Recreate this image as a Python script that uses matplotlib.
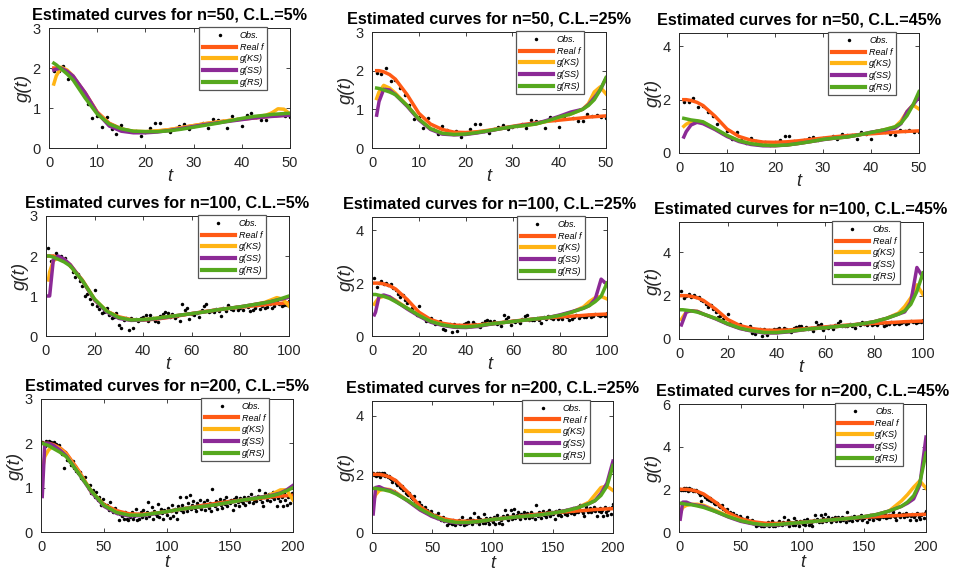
import numpy as np
import matplotlib
matplotlib.use('Agg')
import matplotlib.pyplot as plt

plt.rcParams['font.family'] = ['Liberation Sans', 'DejaVu Sans']

# Tamaños de muestra y niveles de contaminacion
sizes = [50, 100, 200]
levels = ['5%', '25%', '45%']

# Malla relativa u = t/n donde se leen las curvas
U = [0, 0.015, 0.03, 0.05, 0.075, 0.1, 0.15, 0.2, 0.25, 0.3, 0.35, 0.4, 0.45,
     0.5, 0.55, 0.6, 0.65, 0.7, 0.75, 0.8, 0.85, 0.9, 0.925, 0.95, 0.975, 1.0]

real_f = [2.0, 2.0, 2.0, 1.97, 1.9, 1.78, 1.38, 0.90, 0.62, 0.48, 0.41, 0.40, 0.42,
          0.46, 0.51, 0.56, 0.61, 0.65, 0.69, 0.72, 0.75, 0.78, 0.80, 0.81, 0.82, 0.83]

# Curvas estimadas, una lista por nivel (5%, 25%, 45%)
ks_50 = [
    [1.60, 1.60, 1.80, 2.02, 1.95, 1.80, 1.35, 0.88, 0.60, 0.47, 0.42, 0.41, 0.43,
     0.46, 0.51, 0.56, 0.61, 0.65, 0.69, 0.73, 0.77, 0.82, 0.88, 0.98, 0.97, 0.85],
    [1.28, 1.28, 1.45, 1.62, 1.55, 1.42, 1.10, 0.75, 0.50, 0.38, 0.35, 0.36, 0.40,
     0.45, 0.50, 0.55, 0.58, 0.62, 0.70, 0.80, 0.88, 1.00, 1.15, 1.45, 1.58, 1.40],
    [1.00, 1.00, 1.08, 1.18, 1.20, 1.15, 0.90, 0.65, 0.46, 0.35, 0.29, 0.28, 0.30,
     0.36, 0.43, 0.51, 0.56, 0.60, 0.68, 0.77, 0.86, 0.98, 1.20, 1.55, 1.80, 1.65],
]
ss_50 = [
    [1.95, 1.95, 1.97, 2.00, 1.92, 1.80, 1.38, 0.88, 0.55, 0.42, 0.38, 0.38, 0.40,
     0.44, 0.49, 0.54, 0.59, 0.63, 0.67, 0.71, 0.75, 0.78, 0.79, 0.80, 0.81, 0.82],
    [0.85, 0.85, 1.20, 1.52, 1.50, 1.38, 1.08, 0.73, 0.48, 0.36, 0.34, 0.35, 0.39,
     0.44, 0.50, 0.55, 0.59, 0.63, 0.72, 0.82, 0.93, 1.00, 1.12, 1.30, 1.50, 1.80],
    [0.60, 0.60, 0.80, 1.05, 1.15, 1.10, 0.88, 0.62, 0.43, 0.32, 0.27, 0.27, 0.30,
     0.36, 0.43, 0.50, 0.56, 0.60, 0.68, 0.78, 0.85, 0.93, 1.10, 1.55, 1.80, 2.10],
]
rs_50 = [
    [2.12, 2.12, 2.08, 1.98, 1.85, 1.70, 1.25, 0.85, 0.60, 0.48, 0.42, 0.41, 0.41,
     0.43, 0.47, 0.52, 0.57, 0.62, 0.68, 0.74, 0.79, 0.82, 0.84, 0.85, 0.86, 0.87],
    [1.55, 1.55, 1.54, 1.50, 1.45, 1.38, 1.10, 0.75, 0.50, 0.38, 0.35, 0.36, 0.40,
     0.45, 0.50, 0.55, 0.58, 0.62, 0.70, 0.80, 0.88, 1.00, 1.10, 1.25, 1.50, 1.82],
    [1.30, 1.30, 1.28, 1.24, 1.21, 1.17, 0.92, 0.66, 0.46, 0.35, 0.29, 0.28, 0.30,
     0.36, 0.43, 0.51, 0.56, 0.60, 0.68, 0.77, 0.86, 0.98, 1.12, 1.40, 1.80, 2.30],
]
ks_100 = [
    [1.40, 1.60, 1.88, 1.95, 1.92, 1.75, 1.40, 0.92, 0.62, 0.46, 0.40, 0.41, 0.44,
     0.48, 0.52, 0.56, 0.60, 0.65, 0.69, 0.73, 0.78, 0.84, 0.90, 0.96, 0.92, 0.75],
    [1.20, 1.28, 1.45, 1.50, 1.47, 1.35, 1.05, 0.78, 0.55, 0.42, 0.35, 0.34, 0.38,
     0.45, 0.50, 0.55, 0.60, 0.65, 0.70, 0.78, 0.90, 1.10, 1.30, 1.45, 1.50, 1.40],
    [0.90, 1.00, 1.25, 1.30, 1.28, 1.15, 0.95, 0.70, 0.50, 0.38, 0.30, 0.30, 0.35,
     0.42, 0.48, 0.52, 0.58, 0.63, 0.70, 0.80, 0.95, 1.20, 1.50, 1.90, 2.50, 2.05],
]
ss_100 = [
    [1.00, 1.00, 1.90, 2.00, 1.92, 1.78, 1.38, 0.90, 0.60, 0.44, 0.39, 0.40, 0.43,
     0.47, 0.52, 0.56, 0.60, 0.65, 0.69, 0.73, 0.78, 0.83, 0.86, 0.90, 0.93, 0.97],
    [0.80, 0.90, 1.50, 1.55, 1.48, 1.32, 1.02, 0.75, 0.52, 0.40, 0.33, 0.32, 0.36,
     0.44, 0.50, 0.55, 0.60, 0.65, 0.70, 0.80, 0.92, 1.05, 1.15, 1.40, 2.15, 1.95],
    [0.65, 0.80, 1.25, 1.30, 1.27, 1.15, 0.93, 0.68, 0.48, 0.36, 0.28, 0.28, 0.33,
     0.41, 0.48, 0.52, 0.58, 0.63, 0.70, 0.80, 0.95, 1.15, 1.25, 1.70, 3.30, 2.85],
]
rs_100 = [
    [2.00, 2.00, 1.97, 1.92, 1.85, 1.75, 1.38, 0.92, 0.62, 0.46, 0.40, 0.41, 0.44,
     0.48, 0.52, 0.56, 0.60, 0.65, 0.69, 0.73, 0.78, 0.83, 0.86, 0.90, 0.95, 1.00],
    [1.57, 1.57, 1.54, 1.50, 1.42, 1.30, 1.05, 0.78, 0.55, 0.42, 0.35, 0.34, 0.38,
     0.45, 0.50, 0.55, 0.60, 0.65, 0.70, 0.78, 0.90, 1.05, 1.15, 1.30, 1.50, 2.00],
    [1.35, 1.35, 1.33, 1.30, 1.24, 1.15, 0.95, 0.70, 0.50, 0.38, 0.30, 0.30, 0.35,
     0.42, 0.48, 0.52, 0.58, 0.63, 0.70, 0.80, 0.95, 1.15, 1.30, 1.60, 2.20, 3.05],
]
ks_200 = [
    [1.40, 1.70, 1.85, 1.95, 1.88, 1.75, 1.35, 0.92, 0.60, 0.44, 0.38, 0.38, 0.42,
     0.46, 0.51, 0.55, 0.58, 0.62, 0.67, 0.72, 0.76, 0.82, 0.88, 0.95, 0.95, 0.72],
    [1.10, 1.30, 1.45, 1.50, 1.48, 1.38, 1.10, 0.80, 0.58, 0.43, 0.36, 0.36, 0.40,
     0.46, 0.50, 0.55, 0.58, 0.62, 0.68, 0.75, 0.85, 1.05, 1.30, 1.55, 1.60, 1.45],
    [0.90, 1.15, 1.25, 1.30, 1.30, 1.25, 1.00, 0.75, 0.53, 0.40, 0.33, 0.35, 0.40,
     0.45, 0.50, 0.55, 0.60, 0.65, 0.72, 0.82, 0.98, 1.45, 1.75, 2.10, 2.40, 2.05],
]
ss_200 = [
    [0.80, 2.00, 2.00, 1.95, 1.85, 1.72, 1.32, 0.90, 0.58, 0.42, 0.36, 0.37, 0.41,
     0.46, 0.51, 0.55, 0.58, 0.62, 0.67, 0.72, 0.77, 0.81, 0.84, 0.88, 0.95, 1.05],
    [0.65, 1.55, 1.58, 1.50, 1.45, 1.35, 1.08, 0.78, 0.56, 0.41, 0.34, 0.35, 0.40,
     0.46, 0.50, 0.55, 0.58, 0.62, 0.68, 0.76, 0.86, 1.00, 1.10, 1.35, 1.70, 2.45],
    [0.60, 1.40, 1.40, 1.30, 1.25, 1.20, 0.95, 0.70, 0.50, 0.38, 0.31, 0.33, 0.39,
     0.45, 0.50, 0.55, 0.60, 0.65, 0.72, 0.82, 0.98, 1.20, 1.35, 1.55, 2.20, 4.45],
]
rs_200 = [
    [2.00, 1.98, 1.95, 1.88, 1.80, 1.70, 1.32, 0.92, 0.60, 0.44, 0.38, 0.38, 0.42,
     0.46, 0.51, 0.55, 0.58, 0.62, 0.67, 0.72, 0.76, 0.80, 0.83, 0.87, 0.93, 1.00],
    [1.52, 1.52, 1.50, 1.47, 1.42, 1.33, 1.10, 0.82, 0.60, 0.43, 0.36, 0.36, 0.40,
     0.46, 0.50, 0.55, 0.58, 0.62, 0.68, 0.75, 0.85, 1.00, 1.10, 1.28, 1.60, 2.30],
    [1.35, 1.33, 1.30, 1.28, 1.22, 1.15, 0.95, 0.72, 0.53, 0.40, 0.33, 0.35, 0.40,
     0.45, 0.50, 0.55, 0.60, 0.65, 0.72, 0.82, 0.98, 1.20, 1.40, 1.70, 2.30, 3.70],
]

# Observaciones (t = 1..n), las mismas en cada fila
obs_50 = [1.93, 1.92, 2.06, 1.72, 1.75, 1.55, 1.38, 1.10, 0.75, 0.81,
          0.52, 0.77, 0.48, 0.36, 0.58, 0.46, 0.42, 0.43, 0.29, 0.40,
          0.49, 0.62, 0.62, 0.45, 0.40, 0.48, 0.55, 0.60, 0.48, 0.55,
          0.58, 0.62, 0.51, 0.73, 0.69, 0.68, 0.51, 0.79, 0.72, 0.54,
          0.83, 0.87, 0.78, 0.71, 0.69, 0.87, 0.82, 0.85, 0.80, 0.78]
obs_100 = [2.21, 1.87, 2.00, 2.08, 1.96, 2.01, 1.92, 1.95, 1.82, 1.75,
           1.60, 1.48, 1.55, 1.37, 1.25, 1.00, 1.05, 0.92, 0.79, 1.14,
           0.75, 0.68, 0.58, 0.60, 0.69, 0.52, 0.44, 0.48, 0.58, 0.27,
           0.21, 0.40, 0.45, 0.15, 0.46, 0.20, 0.42, 0.38, 0.45, 0.48,
           0.52, 0.38, 0.53, 0.45, 0.37, 0.34, 0.50, 0.56, 0.60, 0.58,
           0.48, 0.55, 0.45, 0.50, 0.37, 0.79, 0.66, 0.71, 0.43, 0.55,
           0.52, 0.58, 0.48, 0.64, 0.74, 0.81, 0.60, 0.62, 0.60, 0.68,
           0.62, 0.49, 0.70, 0.63, 0.77, 0.68, 0.64, 0.72, 0.64, 0.70,
           0.66, 0.75, 0.73, 0.62, 0.66, 0.71, 0.78, 0.68, 0.74, 0.71,
           0.73, 0.80, 0.71, 0.76, 0.85, 0.80, 0.74, 0.78, 0.77, 0.88]
obs_200 = [2.03, 1.98, 1.95, 2.06, 1.97, 2.06, 1.92, 2.04, 1.99, 2.03,
           1.93, 1.98, 1.90, 1.96, 1.88, 1.84, 1.75, 1.44, 1.80, 1.72,
           1.63, 1.66, 1.57, 1.52, 1.60, 1.45, 1.48, 1.38, 1.33, 1.30,
           1.36, 1.22, 1.18, 1.15, 1.25, 1.08, 1.03, 0.98, 1.06, 0.88,
           0.94, 0.85, 0.80, 0.90, 0.72, 0.79, 0.70, 0.62, 0.74, 0.64,
           0.58, 0.62, 0.55, 0.50, 0.68, 0.52, 0.45, 0.49, 0.55, 0.42,
           0.47, 0.26, 0.40, 0.35, 0.41, 0.30, 0.44, 0.30, 0.28, 0.38,
           0.34, 0.45, 0.30, 0.36, 0.53, 0.28, 0.40, 0.30, 0.44, 0.33,
           0.50, 0.38, 0.32, 0.45, 0.68, 0.36, 0.42, 0.56, 0.30, 0.48,
           0.40, 0.35, 0.64, 0.34, 0.52, 0.42, 0.30, 0.50, 0.45, 0.38,
           0.55, 0.32, 0.48, 0.60, 0.35, 0.52, 0.44, 0.30, 0.58, 0.79,
           0.50, 0.62, 0.45, 0.55, 0.78, 0.48, 0.66, 0.83, 0.52, 0.60,
           0.70, 0.55, 0.48, 0.65, 0.58, 0.72, 0.52, 0.62, 0.68, 0.50,
           0.60, 0.72, 0.55, 0.66, 0.48, 0.96, 0.62, 0.58, 0.70, 0.52,
           0.68, 0.75, 0.60, 0.55, 0.72, 0.64, 0.80, 0.58, 0.70, 0.66,
           0.72, 0.49, 0.75, 0.62, 0.80, 0.68, 0.58, 0.76, 0.70, 0.65,
           0.78, 0.62, 0.72, 0.80, 0.68, 0.75, 0.85, 0.66, 0.72, 0.78,
           0.70, 0.82, 0.94, 0.75, 0.68, 0.58, 0.80, 0.88, 0.72, 0.78,
           0.85, 0.70, 0.78, 0.90, 0.74, 0.82, 0.58, 0.76, 0.84, 0.70,
           0.80, 0.58, 0.88, 0.72, 0.62, 0.78, 0.85, 0.66, 0.87, 1.00]

obs = [obs_50, obs_100, obs_200]
ks = [ks_50, ks_100, ks_200]
ss = [ss_50, ss_100, ss_200]
rs = [rs_50, rs_100, rs_200]

# Cajas de los ejes en pixeles (izq, arriba, der, abajo)
boxes = [[(49, 28, 290, 148), (372, 32, 606, 148), (679, 33, 919, 153)],
         [(46, 216, 289, 336), (372, 217, 607, 336), (679, 222, 923, 339)],
         [(41, 399, 293, 532), (372, 401, 613, 533), (679, 404, 926, 532)]]
ylims = [[3, 3, 4.5], [3, 4.5, 5.4], [3, 4.5, 6]]
xsteps = [10, 20, 50]

c_real, c_ks, c_ss, c_rs = '#FF5A14', '#FFB414', '#8C2A96', '#56A81E'
W, H = 955, 571
lw = 2.5
dark = '#262626'

fig = plt.figure(figsize=(W/100, H/100), dpi=100)

for i, n in enumerate(sizes):
    t = np.clip(np.array(U)*n, 1, n)
    tt = np.arange(1, n+1)
    for j, lev in enumerate(levels):
        l, tp, r, b = boxes[i][j]
        ax = fig.add_axes([l/W, 1-b/H, (r-l)/W, (b-tp)/H])
        ax.plot(tt, obs[i], 'o', color='k', ms=2.5, mew=0, label='Obs.')
        ax.plot(t, real_f, color=c_real, lw=lw, label='Real f')
        ax.plot(t, ks[i][j], color=c_ks, lw=lw, label='g(KS)')
        ax.plot(t, ss[i][j], color=c_ss, lw=lw, label='g(SS)')
        ax.plot(t, rs[i][j], color=c_rs, lw=lw, label='g(RS)')

        ax.set_xlim(0, n)
        ax.set_ylim(0, ylims[i][j])
        ax.set_xticks(np.arange(0, n+1, xsteps[i]))
        ax.set_yticks(np.arange(0, ylims[i][j]+0.01, 1 if ylims[i][j] == 3 else 2))
        ax.tick_params(direction='in', length=3, width=0.6, top=True, right=True,
                       labelsize=10.5, colors=dark, pad=6)
        for sp in ax.spines.values():
            sp.set_color(dark)
            sp.set_linewidth(0.7)
        ax.set_title(f'Estimated curves for n={n}, C.L.={lev}', fontsize=11.7,
                     fontweight='bold', pad=6.3)
        ax.set_ylabel('g(t)', fontsize=13.5, style='italic', color=dark, labelpad=0.5)
        ax.set_xlabel('t', fontsize=13, style='italic', color=dark,
                      labelpad=-0.5 if i == 2 else -2)
        leg = ax.legend(loc='upper right', bbox_to_anchor=(0.905, 1.005),
                        borderaxespad=0, prop={'style': 'italic', 'size': 6.5},
                        numpoints=1, handlelength=3.7, handletextpad=0.4,
                        labelspacing=0.3, borderpad=0.4, fancybox=False,
                        framealpha=1)
        leg.get_frame().set_edgecolor('#555555')
        leg.get_frame().set_linewidth(0.9)
        for line in leg.get_lines()[1:]:
            line.set_linewidth(3)

fig.savefig('out.png', dpi=100)
